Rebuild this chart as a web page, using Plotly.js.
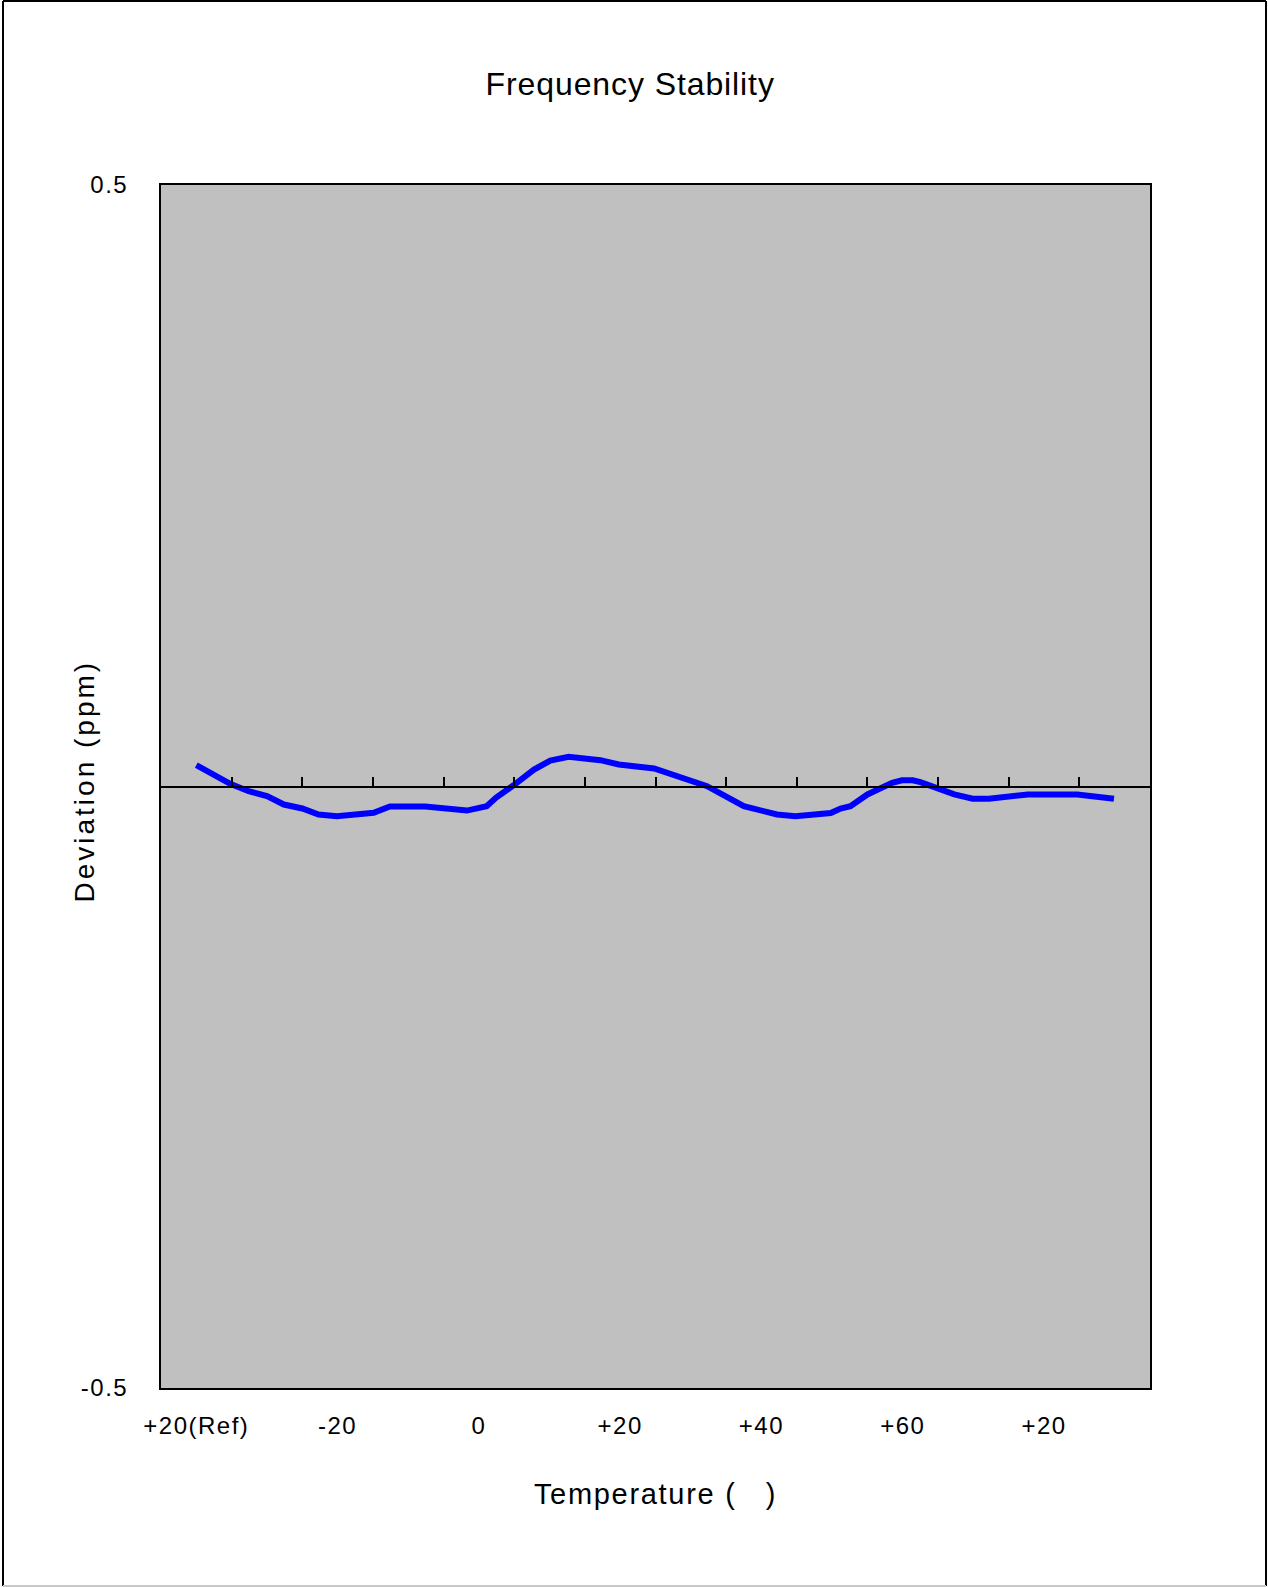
<!DOCTYPE html>
<html>
<head>
<meta charset="utf-8">
<script src="https://cdn.plot.ly/plotly-3.0.1.min.js"></script>
<style>
  html, body { margin: 0; padding: 0; background: #ffffff; }
  #chart { width: 1268px; height: 1587px; }
  .main-svg .gtitle { letter-spacing: 0.9px; }
  .main-svg .xtick text, .main-svg .ytick text { letter-spacing: 1.5px; }
  .main-svg .g-xtitle text { letter-spacing: 1.7px; }
  .main-svg .annotation-text { letter-spacing: 3px; }
</style>
</head>
<body>
<div id="chart"></div>
<script>
// Temperature step labels (every second category step)
const tempLabels = ['+20(Ref)', '-20', '0', '+20', '+40', '+60', '+20'];
const labelSteps = [0, 2, 4, 6, 8, 10, 12];
const tickSteps = [0.5, 1.5, 2.5, 3.5, 4.5, 5.5, 6.5, 7.5, 8.5, 9.5, 10.5, 11.5, 12.5];

// Measured curve: step index along the temperature cycle and deviation (ppm)
const stepIndex = [0, 0.48, 0.74, 1.0, 1.24, 1.5, 1.73, 1.99, 2.51, 2.74, 3.24, 3.5, 3.83, 4.11, 4.24,
  4.49, 4.78, 5.01, 5.27, 5.72, 5.98, 6.48, 7.23, 7.75, 8.22, 8.48, 8.98, 9.12, 9.26, 9.5, 9.85,
  9.99, 10.14, 10.25, 10.73, 10.99, 11.22, 11.77, 12.47, 12.99];
const deviation = [0.0177, 0.0022, -0.0039, -0.008, -0.015, -0.0183, -0.0233, -0.0247, -0.0219, -0.0166,
  -0.0166, -0.0186, -0.02, -0.0164, -0.0094, 0.001, 0.0141, 0.0216, 0.0247, 0.0219, 0.0183, 0.015,
  0.0003, -0.0164, -0.0233, -0.0247, -0.0221, -0.0183, -0.0164, -0.0066, 0.0031, 0.0052, 0.0052,
  0.0036, -0.0066, -0.0102, -0.0102, -0.0066, -0.0066, -0.0102];

const yTickVals = [-0.5, 0.5];
const yTickText = ['-0.5', '0.5'];

const font = 'Liberation Sans, Arial, sans-serif';

const traces = [
  {
    x: stepIndex,
    y: deviation,
    type: 'scatter',
    mode: 'lines',
    line: { color: '#0000ff', width: 6 },
    hoverinfo: 'skip',
    showlegend: false
  },
  {
    x: [],
    y: [],
    xaxis: 'x2',
    yaxis: 'y',
    type: 'scatter',
    mode: 'lines',
    showlegend: false,
    hoverinfo: 'skip'
  }
];

const layout = {
  width: 1268,
  height: 1587,
  paper_bgcolor: '#ffffff',
  plot_bgcolor: '#c0c0c0',
  margin: { l: 161, r: 118, t: 185, b: 199, pad: 0 },
  font: { family: font, color: '#000000' },
  showlegend: false,
  title: {
    text: 'Frequency Stability',
    font: { family: font, size: 32, color: '#000000' },
    xref: 'container', x: 0.497, xanchor: 'center',
    yref: 'container', y: 1 - 84 / 1587, yanchor: 'middle'
  },
  xaxis: {
    range: [-0.5, 13.5],
    tickmode: 'array',
    tickvals: labelSteps,
    ticktext: tempLabels,
    ticks: '',
    ticklabelstandoff: 15,
    tickfont: { family: font, size: 24, color: '#000000' },
    showgrid: false,
    zeroline: false,
    showline: true,
    linecolor: '#000000',
    linewidth: 2,
    mirror: true,
    fixedrange: true,
    title: {
      text: 'Temperature (   )',
      font: { family: font, size: 29, color: '#000000' },
      standoff: 46
    }
  },
  xaxis2: {
    overlaying: 'x',
    anchor: 'free',
    position: 0.5,
    side: 'bottom',
    range: [-0.5, 13.5],
    tickmode: 'array',
    tickvals: tickSteps,
    ticks: 'inside',
    ticklen: 9,
    tickwidth: 2,
    tickcolor: '#000000',
    showticklabels: false,
    showgrid: false,
    zeroline: false,
    showline: true,
    linecolor: '#000000',
    linewidth: 2,
    fixedrange: true
  },
  yaxis: {
    range: [-0.5, 0.5],
    tickmode: 'array',
    tickvals: yTickVals,
    ticktext: yTickText,
    ticks: '',
    ticklabelstandoff: 26,
    tickfont: { family: font, size: 24, color: '#000000' },
    showgrid: false,
    zeroline: false,
    showline: true,
    linecolor: '#000000',
    linewidth: 2,
    mirror: true,
    fixedrange: true
  },
  annotations: [
    {
      text: 'Deviation (ppm)',
      textangle: -90,
      xref: 'paper', yref: 'paper',
      x: (84 - 161) / 989, y: (1388 - 781) / 1203,
      xanchor: 'center', yanchor: 'middle',
      showarrow: false,
      font: { family: font, size: 28, color: '#000000' }
    }
  ],
  shapes: [
    { type: 'line', xref: 'paper', yref: 'paper', x0: (3 - 161) / 989, x1: (3 - 161) / 989, y0: (1388 - 1) / 1203, y1: (1388 - 1586) / 1203, line: { color: '#000000', width: 2 } },
    { type: 'line', xref: 'paper', yref: 'paper', x0: (1266 - 161) / 989, x1: (1266 - 161) / 989, y0: (1388 - 1) / 1203, y1: (1388 - 1586) / 1203, line: { color: '#000000', width: 2 } },
    { type: 'line', xref: 'paper', yref: 'paper', x0: (3 - 161) / 989, x1: (1266 - 161) / 989, y0: (1388 - 1) / 1203, y1: (1388 - 1) / 1203, line: { color: '#000000', width: 2 } },
    { type: 'line', xref: 'paper', yref: 'paper', x0: (3 - 161) / 989, x1: (1266 - 161) / 989, y0: (1388 - 1586) / 1203, y1: (1388 - 1586) / 1203, line: { color: '#c8c8c8', width: 2 } }
  ]
};

Plotly.newPlot('chart', traces, layout, { staticPlot: true, displayModeBar: false });
</script>
</body>
</html>
